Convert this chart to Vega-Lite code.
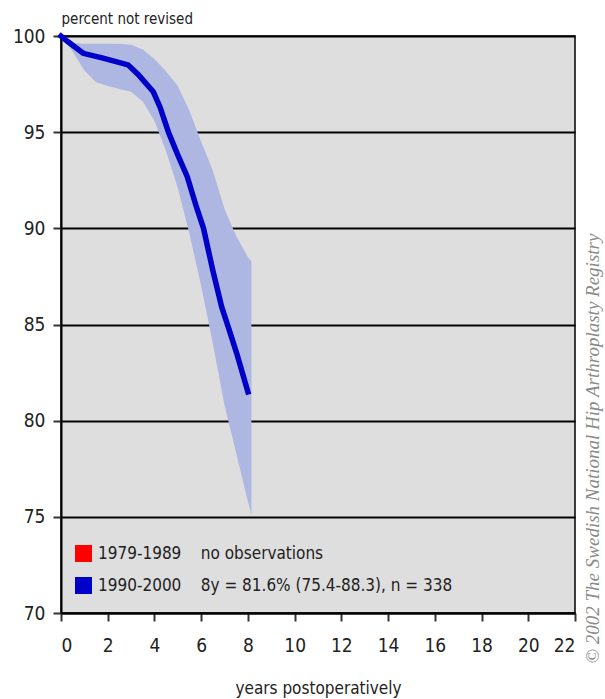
{
  "$schema": "https://vega.github.io/schema/vega-lite/v6.json",
  "width": 514,
  "height": 577,
  "autosize": {"type": "none"},
  "padding": {"left": 61, "top": 36, "right": 30, "bottom": 86},
  "background": "white",
  "title": {
    "text": "© 2002 The Swedish National Hip Arthroplasty Registry",
    "orient": "right",
    "anchor": "middle",
    "angle": -90,
    "dx": -124,
    "dy": -19,
    "font": "Liberation Serif",
    "fontStyle": "italic",
    "fontWeight": "normal",
    "fontSize": 19,
    "color": "#8a8a8a",
    "offset": 8
  },
  "config": {
    "view": {"fill": "#dedede", "stroke": "black", "strokeWidth": 1.5},
    "axis": {
      "labelFont": "DejaVu Sans Condensed, Liberation Sans, sans-serif",
      "labelFontSize": 19,
      "labelColor": "#222",
      "titleFont": "DejaVu Sans Condensed, Liberation Sans, sans-serif",
      "titleFontWeight": "normal",
      "titleColor": "#222",
      "domainColor": "black",
      "domainWidth": 2,
      "tickColor": "#333",
      "tickWidth": 2
    }
  },
  "datasets": {
    "band": [
      {"year": 0, "lo": 100, "hi": 100},
      {"year": 0.5, "lo": 99.2, "hi": 99.65},
      {"year": 1.0, "lo": 98.2, "hi": 99.6},
      {"year": 1.5, "lo": 97.6, "hi": 99.6},
      {"year": 2.0, "lo": 97.4, "hi": 99.6},
      {"year": 2.5, "lo": 97.25, "hi": 99.6},
      {"year": 3.0, "lo": 97.1, "hi": 99.55},
      {"year": 3.5, "lo": 96.6, "hi": 99.3},
      {"year": 4.0, "lo": 95.6, "hi": 98.8},
      {"year": 4.5, "lo": 94.0, "hi": 98.15},
      {"year": 5.0, "lo": 92.1, "hi": 97.4},
      {"year": 5.5, "lo": 89.7, "hi": 96.1},
      {"year": 6.0, "lo": 87.0, "hi": 94.5},
      {"year": 6.5, "lo": 84.0, "hi": 93.0},
      {"year": 7.0, "lo": 80.8, "hi": 91.0},
      {"year": 7.5, "lo": 78.3, "hi": 89.6},
      {"year": 8.0, "lo": 75.8, "hi": 88.5},
      {"year": 8.15, "lo": 75.1, "hi": 88.3}
    ],
    "curve": [
      {"year": 0, "pct": 100, "period": "1990-2000"},
      {"year": 0.3, "pct": 99.7, "period": "1990-2000"},
      {"year": 0.95, "pct": 99.1, "period": "1990-2000"},
      {"year": 1.8, "pct": 98.85, "period": "1990-2000"},
      {"year": 2.87, "pct": 98.5, "period": "1990-2000"},
      {"year": 3.3, "pct": 98.0, "period": "1990-2000"},
      {"year": 3.95, "pct": 97.1, "period": "1990-2000"},
      {"year": 4.24, "pct": 96.3, "period": "1990-2000"},
      {"year": 4.6, "pct": 95.0, "period": "1990-2000"},
      {"year": 4.97, "pct": 93.9, "period": "1990-2000"},
      {"year": 5.4, "pct": 92.7, "period": "1990-2000"},
      {"year": 5.8, "pct": 91.1, "period": "1990-2000"},
      {"year": 6.1, "pct": 90.0, "period": "1990-2000"},
      {"year": 6.5, "pct": 87.8, "period": "1990-2000"},
      {"year": 6.88, "pct": 85.9, "period": "1990-2000"},
      {"year": 7.15, "pct": 84.9, "period": "1990-2000"},
      {"year": 7.52, "pct": 83.5, "period": "1990-2000"},
      {"year": 8.0, "pct": 81.5, "period": "1990-2000"}
    ]
  },
  "layer": [
    {
      "data": {"name": "band"},
      "mark": {"type": "area", "color": "#aeb7e2", "opacity": 1},
      "encoding": {
        "x": {
          "field": "year", "type": "quantitative",
          "scale": {"domain": [0, 22], "nice": false},
          "axis": {
            "values": [0, 2, 4, 6, 8, 10, 12, 14, 16, 18, 20, 22],
            "grid": false,
            "tickSize": 8,
            "labelPadding": 15,
            "title": "years postoperatively",
            "titleFontSize": 17,
            "titlePadding": 25
          }
        },
        "y": {
          "field": "lo", "type": "quantitative",
          "scale": {"domain": [70, 100], "nice": false, "zero": false},
          "axis": {
            "values": [70, 75, 80, 85, 90, 95, 100],
            "grid": true,
            "gridColor": "black",
            "gridWidth": 2,
            "gridOpacity": 1,
            "tickSize": 8,
            "labelPadding": 8,
            "title": "percent not revised",
            "titleAngle": 0,
            "titleFontSize": 15,
            "titleAlign": "left",
            "titleBaseline": "alphabetic",
            "titleX": 0,
            "titleY": -13
          }
        },
        "y2": {"field": "hi"}
      }
    },
    {
      "data": {"name": "curve"},
      "mark": {"type": "line", "strokeWidth": 5.5, "strokeCap": "square", "strokeJoin": "miter"},
      "encoding": {
        "x": {"field": "year", "type": "quantitative"},
        "y": {"field": "pct", "type": "quantitative"},
        "color": {
          "field": "period", "type": "nominal",
          "scale": {"domain": ["1979-1989", "1990-2000"], "range": ["#ff0000", "#0000c8"]},
          "legend": {
            "orient": "none",
            "legendX": 14,
            "legendY": 509,
            "title": null,
            "padding": 0,
            "symbolType": "square",
            "symbolSize": 240,
            "symbolStrokeColor": "black",
            "symbolStrokeWidth": 1.5,
            "labelFont": "DejaVu Sans Condensed, Liberation Sans, sans-serif",
            "labelFontSize": 17,
            "labelColor": "#222",
            "labelLimit": 0,
            "labelOffset": 6,
            "rowPadding": 9,
            "labelExpr": "datum.label == '1979-1989' ? '1979-1989\u00a0\u00a0\u00a0\u00a0no observations' : '1990-2000\u00a0\u00a0\u00a0\u00a08y = 81.6% (75.4-88.3), n = 338'",
            "encode": {
              "symbols": {
                "update": {
                  "fill": {"scale": "color", "field": "value"},
                  "stroke": {"value": "black"},
                  "opacity": {"value": 1}
                }
              }
            }
          }
        }
      }
    }
  ]
}
